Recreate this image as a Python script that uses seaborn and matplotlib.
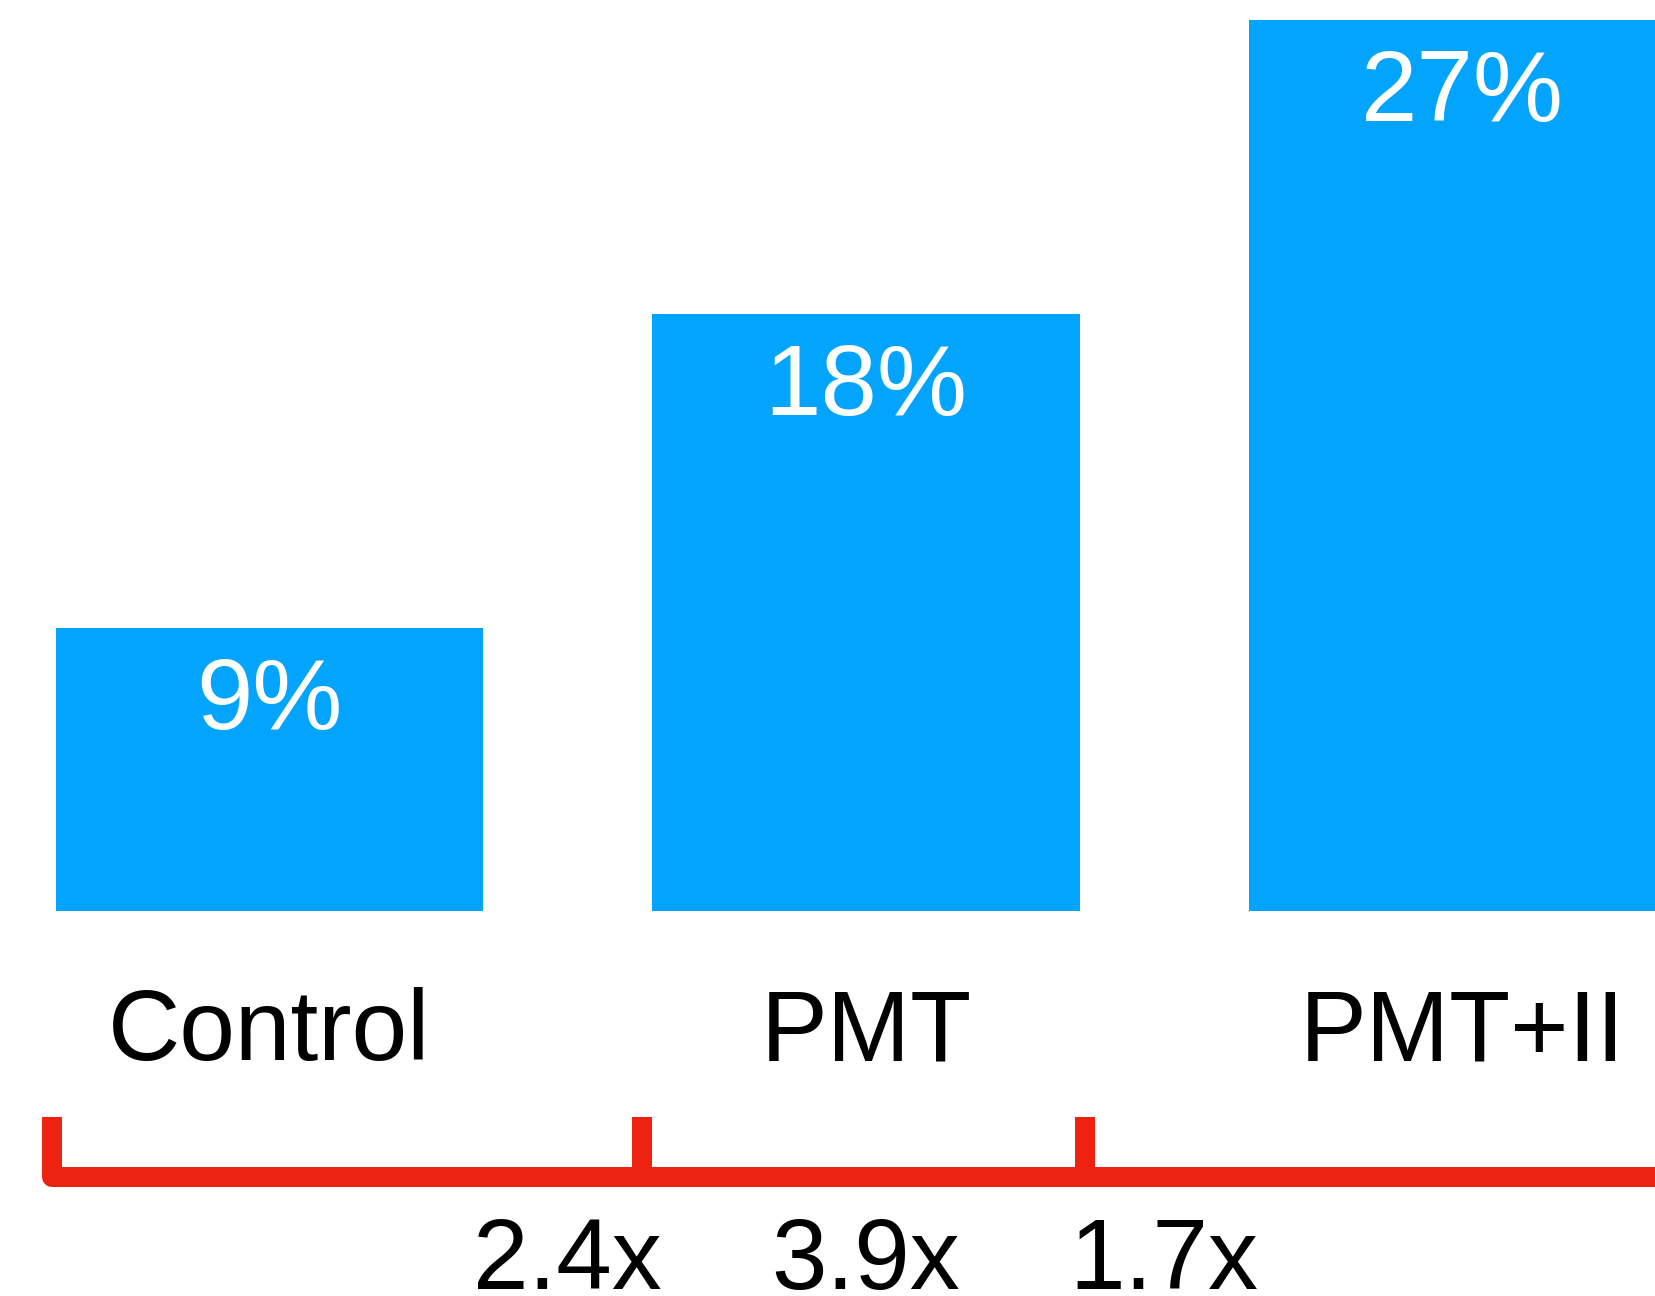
import matplotlib
matplotlib.use("Agg")
import matplotlib.pyplot as plt
import seaborn as sns

# data
categories = ["Control", "PMT", "PMT+II"]
heights = [8.58, 18.09, 27.0]          # bar heights (%)
value_labels = ["9%", "18%", "27%"]
ratio_labels = ["2.4x", "3.9x", "1.7x"]
ratio_pos = [0.5, 1.0, 1.5]            # x position of the fold-change labels
bracket_edges = [-0.365, 0.624, 1.367, 2.6]

bar_color = "#02A4FE"
red = "#EE2211"

sns.set_style("white")
plt.rcParams["font.family"] = ["Liberation Sans", "DejaVu Sans"]

fig = plt.figure(figsize=(16.56, 12.96), dpi=100)
ax = fig.add_axes([0, 385 / 1296, 1, 911 / 1296])

sns.barplot(x=categories, y=heights, color=bar_color, saturation=1,
            width=0.716, linewidth=0, ax=ax)

ax.set_xlim(-0.4518, 2.3244)
ax.set_ylim(0, 27.606)
ax.set_yticks([])
ax.set_xlabel("")
ax.set_ylabel("")
ax.tick_params(axis="x", length=0, pad=55, labelsize=72, colors="black")
sns.despine(ax=ax, left=True, bottom=True)

# white % labels inside the bars
for patch, lbl in zip(ax.patches, value_labels):
    xc = patch.get_x() + patch.get_width() / 2
    ax.annotate(lbl, (xc, patch.get_height()), xytext=(0, -72.7),
                textcoords="offset points", ha="center", va="baseline",
                color="white", fontsize=73)

# red brackets under the categories
tick_top = -6.24
line_y = -8.06
for x0, x1 in zip(bracket_edges[:-1], bracket_edges[1:]):
    ax.plot([x0, x0, x1, x1], [tick_top, line_y, line_y, tick_top],
            color=red, lw=14.4, solid_joinstyle="round",
            solid_capstyle="butt", clip_on=False)

for x, r in zip(ratio_pos, ratio_labels):
    ax.text(x, -11.45, r, ha="center", va="baseline", fontsize=72,
            color="black", clip_on=False)

fig.savefig("out.png", dpi=100)
